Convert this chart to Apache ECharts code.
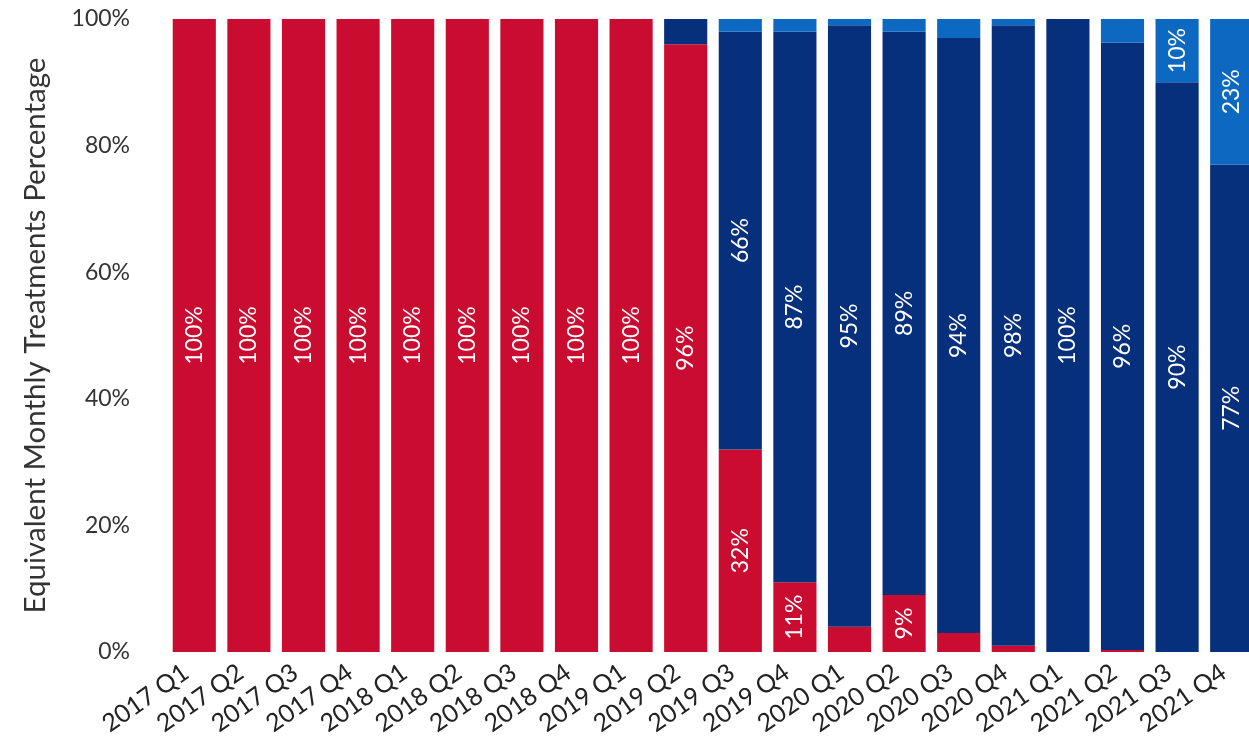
<!DOCTYPE html>
<html>
<head>
<meta charset="utf-8">
<script src="https://cdn.jsdelivr.net/npm/echarts@6/dist/echarts.min.js"></script>
<style>
  html, body { margin: 0; padding: 0; background: #fff; }
  #main { width: 1249px; height: 743px; }
</style>
</head>
<body>
<div id="main"></div>
<script>
// quarters on the x axis
var quarters = ['2017 Q1', '2017 Q2', '2017 Q3', '2017 Q4', '2018 Q1', '2018 Q2', '2018 Q3', '2018 Q4',
    '2019 Q1', '2019 Q2', '2019 Q3', '2019 Q4', '2020 Q1', '2020 Q2', '2020 Q3', '2020 Q4',
    '2021 Q1', '2021 Q2', '2021 Q3', '2021 Q4'];
// shares in percent, bottom to top
var redShare   = [100, 100, 100, 100, 100, 100, 100, 100, 100, 96, 32, 11, 4, 9, 3, 1, 0, 0.3, 0, 0];
var navyShare  = [0, 0, 0, 0, 0, 0, 0, 0, 0, 4, 66, 87, 95, 89, 94, 98, 100, 96, 90, 77];
var lightShare = [0, 0, 0, 0, 0, 0, 0, 0, 0, 0, 2, 2, 1.5, 2, 3, 1.5, 0, 3.7, 10, 23];
var yTicks = [0, 20, 40, 60, 80, 100];

var chart = echarts.init(document.getElementById('main'));
var font = 'Lato';

// only label the bigger pieces
var barLabel = {
    show: true,
    position: 'inside',
    rotate: 90,
    color: '#fff',
    fontSize: 23,
    fontFamily: font,
    formatter: function (p) {
        return p.value >= 5 ? Math.round(p.value) + '%' : '';
    }
};

function makeSeries(name, data, color) {
    return {
        name: name,
        type: 'bar',
        stack: 'all',
        data: data,
        barCategoryGap: '21%',
        itemStyle: { color: color },
        label: barLabel
    };
}

var option = {
    animation: false,
    grid: { left: 167, width: 1092, top: 19, bottom: 91, containLabel: false, outerBoundsMode: 'none' },
    xAxis: {
        type: 'category',
        data: quarters,
        axisLine: { show: false },
        axisTick: { show: false },
        axisLabel: {
            rotate: 35,
            margin: 12,
            padding: [0, 10, 0, 0],
            interval: 0,
            color: '#222',
            fontSize: 25,
            fontFamily: font
        }
    },
    yAxis: {
        type: 'value',
        min: yTicks[0],
        max: yTicks[yTicks.length - 1],
        interval: 20,
        name: 'Equivalent Monthly Treatments Percentage',
        nameLocation: 'middle',
        nameGap: 117,
        nameTextStyle: { fontSize: 29.5, color: '#333', fontFamily: font },
        splitLine: { show: false },
        axisLine: { show: false },
        axisTick: { show: false },
        axisLabel: {
            formatter: '{value}%',
            margin: 37,
            color: '#333',
            fontSize: 23,
            fontFamily: font
        }
    },
    series: [
        makeSeries('Red', redShare, '#C90C2F'),
        makeSeries('Navy', navyShare, '#062F7C'),
        makeSeries('Light', lightShare, '#0D68C2')
    ]
};
chart.setOption(option);
</script>
</body>
</html>
